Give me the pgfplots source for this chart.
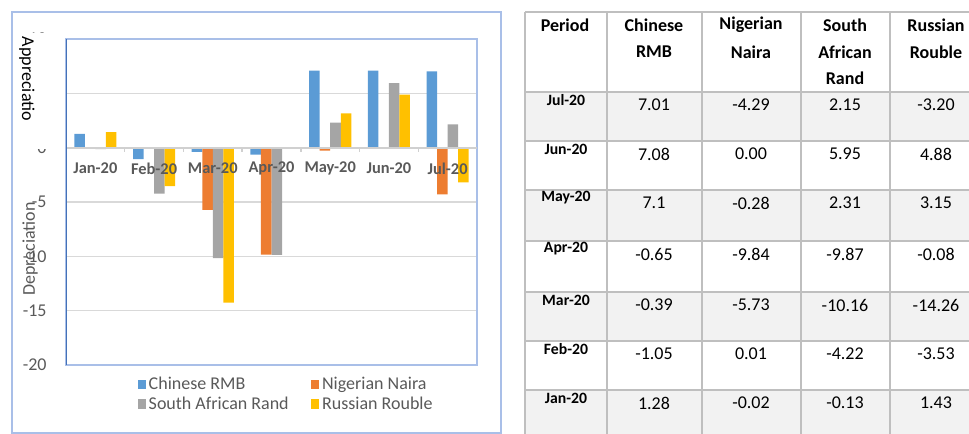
\documentclass[border=0pt]{standalone}
\usepackage{pgfplots}
\pgfplotsset{compat=1.18}
\usepackage{pgfplotstable}
\usepackage{fontspec}
\setmainfont{Carlito}

\definecolor{rmb}{HTML}{5B9BD5}
\definecolor{naira}{HTML}{ED7D31}
\definecolor{rand}{HTML}{A5A5A5}
\definecolor{rouble}{HTML}{FFC000}
\definecolor{labelgray}{HTML}{595959}
\definecolor{gridgray}{HTML}{D9D9D9}
\definecolor{frameblue}{HTML}{A9BFE8}
\definecolor{leftblue}{HTML}{4472B8}
\definecolor{tblline}{HTML}{BFBFBF}
\definecolor{rowgray}{HTML}{F2F2F2}

% monthly change, Jan-20 .. Jul-20
\pgfplotstableread{
x rmb   naira  rand    rouble
0 1.28  -0.02  -0.13   1.43
1 -1.05 0.01   -4.22   -3.53
2 -0.39 -5.73  -10.16  -14.26
3 -0.65 -9.84  -9.87   -0.08
4 7.1   -0.28  2.31    3.15
5 7.08  0.00   5.95    4.88
6 7.01  -4.29  2.15    -3.20
}\fx

\newcommand{\axfont}{\fontsize{13.5}{14}\selectfont}

\begin{document}
\begin{tikzpicture}
% --- chart frame, table (1 unit = one pixel of the reference) ---
\begin{scope}[x=0.75pt,y=-0.75pt]
  \path[use as bounding box] (0,0) rectangle (969,434);
  \draw[frameblue, line width=1.2pt] (12,12) rectangle (501,433);

  \begin{scope}
    \clip (0,0) rectangle (969,434);
    \foreach \t/\b in {92/141,190/241,292/341,390/439}
      \fill[rowgray] (525,\t) rectangle (982,\b);
    \foreach \yy in {12,92,141,190,241,292,341,390,439}
      \draw[tblline, line width=1.5pt] (525,\yy) -- (982,\yy);
    \foreach \xx in {525,607,702,801,890,982}
      \draw[tblline, line width=1.5pt] (\xx,12) -- (\xx,439);

    \begin{scope}[every node/.style={font=\bfseries\axfont, inner sep=0pt}]
      \node at (565,25) {Period};
      \node at (654,25) {Chinese};   \node at (654,52) {RMB};
      \node at (751,25) {Nigerian};  \node at (751,52) {Naira};
      \node at (845,25) {South};     \node at (845,52) {African}; \node at (845,78) {Rand};
      \node at (936,25) {Russian};   \node at (936,52) {Rouble};
    \end{scope}

    \foreach \t/\m/\a/\b/\c/\d in {
        92/Jul-20/7.01/-4.29/2.15/-3.20,
        141/Jun-20/7.08/0.00/5.95/4.88,
        190/May-20/7.1/-0.28/2.31/3.15,
        241/Apr-20/-0.65/-9.84/-9.87/-0.08,
        292/Mar-20/-0.39/-5.73/-10.16/-14.26,
        341/Feb-20/-1.05/0.01/-4.22/-3.53,
        390/Jan-20/1.28/-0.02/-0.13/1.43} {
      \node[font=\bfseries\fontsize{11.8}{12}\selectfont, inner sep=0pt] at (566,\t+8) {\m};
      \node[font=\axfont, inner sep=0pt] at (654,\t+13) {\a};
      \node[font=\axfont, inner sep=0pt] at (751,\t+13) {\b};
      \node[font=\axfont, inner sep=0pt] at (845,\t+13) {\c};
      \node[font=\axfont, inner sep=0pt] at (936,\t+13) {\d};
    }
  \end{scope}
\end{scope}

\begin{axis}[
  at={(49.5pt,-273.75pt)}, anchor=south west,
  scale only axis, width=308.25pt, height=244.5pt,
  ybar=0pt, bar width=7.9pt,
  xmin=-0.5, xmax=6.5, ymin=-20, ymax=10,
  xtick={0,...,6}, xticklabels={},
  ytick={-20,-15,...,10},
  yticklabel style={font=\axfont, text=labelgray, xshift=-11pt},
  /pgf/number format/assume math mode=true,
  major tick style={draw=none},
  ymajorgrids, grid style={gridgray, line width=1pt},
  axis line style={frameblue, line width=1.2pt},
  legend style={at={(0.165,-0.02)}, anchor=north west, draw=none, fill=none,
    font=\axfont, text=labelgray, legend columns=2,
    row sep=0pt,
    /tikz/every even column/.append style={column sep=15pt}},
  legend image code/.code={\fill[#1] (0pt,-3.6pt) rectangle (6pt,3.6pt);},
  legend cell align=left,
]
\addplot[fill=rmb, draw=none] table[x=x, y=rmb] {\fx};
\addlegendentry{Chinese RMB}
\addplot[fill=naira, draw=none] table[x=x, y=naira] {\fx};
\addlegendentry{Nigerian Naira}
\addplot[fill=rand, draw=none] table[x=x, y=rand] {\fx};
\addlegendentry{South African Rand}
\addplot[fill=rouble, draw=none] table[x=x, y=rouble] {\fx};
\addlegendentry{Russian Rouble}

% zero line with category separators
\draw[gridgray!90!gray, line width=1.5pt] (axis cs:-0.5,0) -- (axis cs:6.5,0);
\pgfplotsinvokeforeach{0.5,1.5,2.5,3.5,4.5,5.5}{
  \draw[gridgray!90!gray, line width=1pt] (axis cs:#1,0) -- ++(0pt,-3pt);
}
\draw[leftblue, line width=1.5pt] (rel axis cs:0,0) -- (rel axis cs:0,1);

% category labels sit on the zero line, over the bars
\foreach \i/\lab in {0/Jan-20,1/Feb-20,2/Mar-20,3/Apr-20,4/May-20,5/Jun-20,6/Jul-20}{
  \edef\temp{\noexpand\node[font=\noexpand\bfseries\noexpand\fontsize{12.3}{12}\noexpand\selectfont,
    text=labelgray, inner sep=0pt] at (axis cs:\i,0) [yshift=-15.5pt] {\lab};}
  \temp
}
\end{axis}

% --- axis titles (Excel's title box hides the upper tick labels) ---
\begin{scope}[x=0.75pt,y=-0.75pt]
  \fill[white] (15,33) rectangle (49,149);
  \node[rotate=-90, font=\axfont, inner sep=0pt] at (27,79) {Appreciatio};
  \node[rotate=90, font=\axfont, text=labelgray, inner sep=0pt] at (30,249) {Depreciation};
\end{scope}
\end{tikzpicture}
\end{document}
